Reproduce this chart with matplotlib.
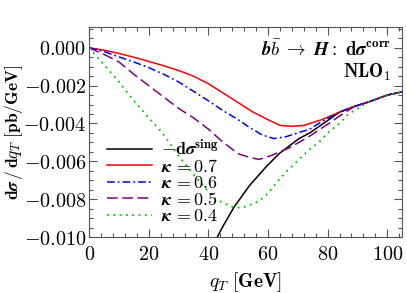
import matplotlib
matplotlib.use("Agg")
import matplotlib.pyplot as plt
from matplotlib.ticker import MultipleLocator, FuncFormatter

plt.rcParams["mathtext.fontset"] = "cm"
plt.rcParams["font.family"] = "serif"
plt.rcParams["font.serif"] = ["DejaVu Serif"]

# curves (q_T in GeV, dsigma/dq_T in pb/GeV)
tail_x = [89, 94, 100, 105]
tail_y = [-0.0031, -0.00285, -0.0025, -0.00233]

sing_x = [42, 45, 48.7, 53.7, 59.3, 63.7, 67, 70.4, 74, 80.4, 84] + tail_x
sing_y = [-0.0103, -0.0094, -0.0084, -0.0073, -0.0063, -0.0056, -0.0052,
          -0.0048, -0.0045, -0.0038, -0.0034] + tail_y

k07_x = [0, 5, 10, 15, 20, 25, 30, 35, 40, 45, 50, 55, 60, 64, 68, 72, 78, 84] + tail_x
k07_y = [0, -0.00013, -0.0003, -0.0005, -0.00072, -0.00095, -0.0012, -0.0015,
         -0.0019, -0.0024, -0.0029, -0.0034, -0.0038, -0.0041, -0.00415, -0.0041,
         -0.0038, -0.0034] + tail_y

k06_x = [0, 5, 10, 15, 20, 25, 30, 35, 40, 44.7, 50, 53.7, 58, 62, 66, 70, 74, 78, 84] + tail_x
k06_y = [0, -0.0002, -0.00048, -0.00075, -0.00105, -0.0014, -0.0018, -0.0023,
         -0.0028, -0.0033, -0.0038, -0.0042, -0.0046, -0.0048, -0.0047, -0.0045,
         -0.0043, -0.0039, -0.0034] + tail_y

k05_x = [0, 5, 10, 15, 20, 25, 30, 35, 40, 45, 50, 54, 57, 61, 64, 67, 73.7, 80.4, 85] + tail_x
k05_y = [0, -0.00035, -0.00075, -0.0014, -0.002, -0.0026, -0.0032, -0.0037,
         -0.0043, -0.0050, -0.0056, -0.0058, -0.0059, -0.0057, -0.0055, -0.0053,
         -0.0047, -0.0040, -0.0035] + tail_y

k04_x = [0, 5, 10, 15, 20, 24.6, 30, 35, 40, 42.5, 45, 48, 51, 54, 57, 60, 63,
         66.5, 70.4, 73.7, 77, 80.4, 84, 87] + tail_x[1:]
k04_y = [0, -0.0009, -0.0018, -0.0028, -0.0037, -0.0045, -0.0057, -0.0067,
         -0.0076, -0.0080, -0.0082, -0.0084, -0.00846, -0.0083, -0.0081, -0.0077,
         -0.0071, -0.0065, -0.0059, -0.0054, -0.0050, -0.00445, -0.0040, -0.0035] + tail_y[1:]

fig = plt.figure(figsize=(4.07, 2.93), dpi=100)
ax = fig.add_axes([0.219, 0.191, 0.769, 0.717])

ax.plot(sing_x, sing_y, color="black", lw=1.1, label=r"$-\mathbf{d}\boldsymbol{\sigma}^{\mathbf{sing}}$")
ax.plot(k07_x, k07_y, color="#ff0000", lw=1.1, label=r"$\boldsymbol{\kappa}\,\mathbf{=0.7}$")
ax.plot(k06_x, k06_y, color="#0000ff", lw=1.1, ls=(0, (5, 2, 1.2, 2)),
        label=r"$\boldsymbol{\kappa}\,\mathbf{=0.6}$")
ax.plot(k05_x, k05_y, color="#800080", lw=1.1, ls=(0, (7, 3)),
        label=r"$\boldsymbol{\kappa}\,\mathbf{=0.5}$")
ax.plot(k04_x, k04_y, color="#00c000", lw=1.3, ls=(0, (1, 2.5)),
        label=r"$\boldsymbol{\kappa}\,\mathbf{=0.4}$")

ax.set_xlim(0, 105)
ax.set_ylim(-0.010, 0.0011)
ax.xaxis.set_major_locator(MultipleLocator(20))
ax.xaxis.set_minor_locator(MultipleLocator(4))
ax.yaxis.set_major_locator(MultipleLocator(0.002))
ax.yaxis.set_minor_locator(MultipleLocator(0.0005))
ax.xaxis.set_major_formatter(FuncFormatter(lambda v, p: r"$\mathbf{%d}$" % round(v)))
ax.yaxis.set_major_formatter(FuncFormatter(lambda v, p: r"$\mathbf{%.3f}$" % v))
ax.tick_params(which="both", direction="in", top=True, right=True, colors="#555555",
               labelcolor="black", labelsize=14.5)
ax.tick_params(which="major", length=6, width=0.8)
ax.tick_params(which="minor", length=3, width=0.8)
ax.tick_params(axis="x", pad=6)
ax.tick_params(axis="y", pad=2)
for s in ax.spines.values():
    s.set_color("#555555")

ax.set_xlabel(r"$\boldsymbol{q_T}\ \mathbf{[GeV]}$", fontsize=14)
ax.set_ylabel(r"$\mathbf{d}\boldsymbol{\sigma}\,/\,\mathbf{d}\boldsymbol{q_T}\ \mathbf{[pb/GeV]}$",
              fontsize=12.5)
ax.yaxis.set_label_coords(-0.205, 0.5)

ax.text(0.965, 0.945, r"$\boldsymbol{b\bar{b}}\;\boldsymbol{\to}\;\boldsymbol{H}\mathbf{:}\ \mathbf{d}\boldsymbol{\sigma}^{\mathbf{corr}}$",
        transform=ax.transAxes, ha="right", va="top", fontsize=13.5)
ax.text(0.965, 0.835, r"$\mathbf{NLO_1}$", transform=ax.transAxes, ha="right", va="top", fontsize=13.5)

ax.legend(loc="lower left", bbox_to_anchor=(0.02, 0.0), frameon=False, fontsize=13,
          handlelength=2.5, handletextpad=0.5, labelspacing=-0.08, borderaxespad=0.25)

fig.savefig("out.png", dpi=100)
